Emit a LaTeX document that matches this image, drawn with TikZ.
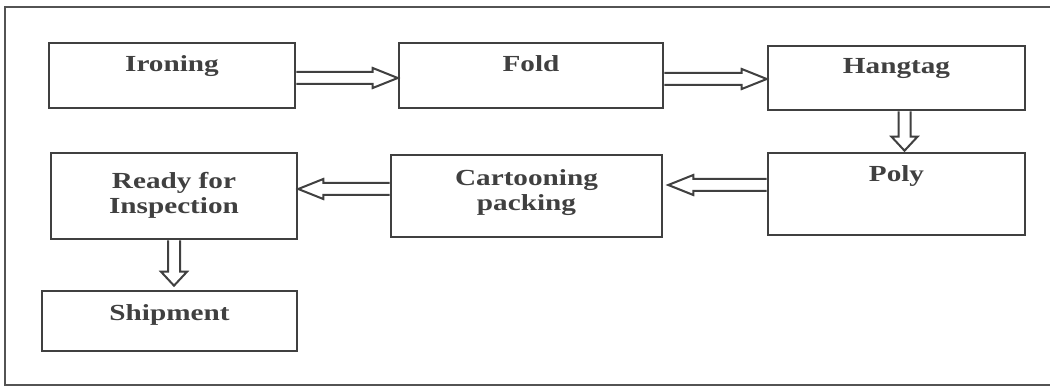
\documentclass[tikz,border=0pt]{standalone}
\usepackage{fontspec}
\setmainfont{Liberation Serif}[FakeStretch=1.27]
\usetikzlibrary{calc}
\definecolor{boxline}{HTML}{404040}
\definecolor{txt}{HTML}{404040}
\begin{document}
\begin{tikzpicture}[x=1pt,y=-1pt,
  stepbox/.style={draw=boxline, line width=2.6pt, inner sep=0pt},
  lbl/.style={text=txt, anchor=base, inner sep=0pt, align=center,
    font=\fontsize{23}{25}\selectfont\bfseries},
  blockarrow/.style n args={3}{draw=boxline, line width=2pt, line join=miter,
    to path={($(\tikztostart)!#1!90:(\tikztotarget)$)
      -- ($($(\tikztotarget)!#3!(\tikztostart)$)!#1!-90:(\tikztostart)$)
      -- ($($(\tikztotarget)!#3!(\tikztostart)$)!#2!-90:(\tikztostart)$)
      -- (\tikztotarget)
      -- ($($(\tikztotarget)!#3!(\tikztostart)$)!#2!90:(\tikztostart)$)
      -- ($($(\tikztotarget)!#3!(\tikztostart)$)!#1!90:(\tikztostart)$)
      -- ($(\tikztostart)!#1!-90:(\tikztotarget)$)}},
  hflow/.style={blockarrow={6pt}{10pt}{25pt}},
  vflow/.style={blockarrow={6pt}{13pt}{14pt}}]
\useasboundingbox (0,0) rectangle (1050,390);
\fill[white] (0,0) rectangle (1050,390);
% outer frame (right side runs off the picture)
\draw[draw=boxline!90, line width=2.8pt] (1060,7) -- (5,7) -- (5,385) -- (1060,385);
% boxes
\node[stepbox, minimum width=246pt, minimum height=65pt] (iron) at (172,75.5) {};
\node[stepbox, minimum width=264pt, minimum height=65pt] (fold) at (531,75.5) {};
\node[stepbox, minimum width=257pt, minimum height=64pt] (hang) at (896.5,78) {};
\node[stepbox, minimum width=257pt, minimum height=82pt] (poly) at (896.5,194) {};
\node[stepbox, minimum width=271pt, minimum height=82pt] (cart) at (526.5,196) {};
\node[stepbox, minimum width=246pt, minimum height=86pt] (ready) at (174,196) {};
\node[stepbox, minimum width=255pt, minimum height=60pt] (ship) at (169.5,321) {};
% labels
\node[lbl] (tiron) at ([yshift=-30pt]iron.north) {Ironing};
\node[lbl] (tfold) at ([yshift=-30pt]fold.north) {Fold};
\node[lbl] (thang) at ([yshift=-29pt]hang.north) {Hangtag};
\node[lbl] (tpoly) at ([yshift=-30pt]poly.north) {Poly};
\node[lbl] (tcart) at ([yshift=-57pt]cart.north) {Cartooning\\packing};
\node[lbl] (tready) at ([yshift=-62pt]ready.north) {Ready for\\Inspection};
\node[lbl] (tship) at ([yshift=-31pt]ship.north) {Shipment};
% connector end points
\coordinate (a1s) at ($(iron.east)+(0,2.5)$);
\coordinate (a1e) at (a1s -| fold.west);
\coordinate (a2s) at ($(fold.east |- hang.west)+(0,1)$);
\coordinate (a2e) at (a2s -| hang.west);
\coordinate (a3s) at ($(hang.south)+(8,0)$);
\coordinate (a3e) at ($(a3s |- poly.north)+(0,-1)$);
\coordinate (a4s) at ($(poly.west)+(0,-9)$);
\coordinate (a4e) at ($(a4s -| cart.east)+(5,0)$);
\coordinate (a5s) at ($(cart.west)+(0,-7)$);
\coordinate (a5e) at (a5s -| ready.east);
\coordinate (a6s) at (ready.south);
\coordinate (a6e) at ($(ready.south |- ship.north)+(0,-4)$);
% connectors
\draw[hflow] (a1s) to (a1e);
\draw[hflow] (a2s) to (a2e);
\draw[vflow] (a3s) to (a3e);
\draw[hflow] (a4s) to (a4e);
\draw[hflow] (a5s) to (a5e);
\draw[vflow] (a6s) to (a6e);
\end{tikzpicture}
\end{document}
